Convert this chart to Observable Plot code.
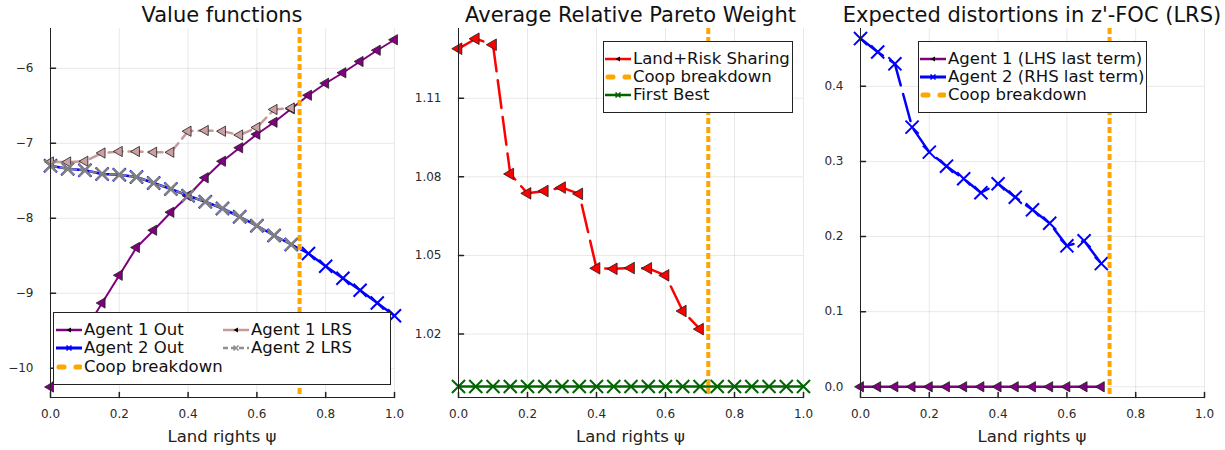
<!DOCTYPE html>
<html><head><meta charset="utf-8">
<script src="https://cdn.jsdelivr.net/npm/d3@7"></script>
<script src="https://cdn.jsdelivr.net/npm/@observablehq/plot@0.6"></script>
<style>
html,body{margin:0;padding:0;background:#fff;}
#root{position:relative;width:1225px;height:450px;overflow:hidden;font-family:"DejaVu Sans",sans-serif;}
.title{position:absolute;top:5px;font-size:21px;line-height:21px;text-align:center;white-space:nowrap;color:#111;}
.xlabel{position:absolute;top:429px;font-size:16.5px;line-height:16.5px;text-align:center;white-space:nowrap;color:#222;}
.legend{position:absolute;background:#fff;border:1px solid #222;box-sizing:border-box;}
.item{position:absolute;display:flex;align-items:center;height:18px;white-space:nowrap;font-size:16.5px;line-height:18px;color:#111;}
.item svg{margin-right:2px;flex:none;}
</style></head><body><div id="root"></div>
<script>
// ---------- data ----------
const psi = [0, 0.05, 0.1, 0.15, 0.2, 0.25, 0.3, 0.35, 0.4, 0.45, 0.5, 0.55, 0.6, 0.65, 0.7, 0.75, 0.8, 0.85, 0.9, 0.95, 1.0];
const psiLRS = [0, 0.05, 0.1, 0.15, 0.2, 0.25, 0.3, 0.35, 0.4, 0.45, 0.5, 0.55, 0.6, 0.65, 0.7];
const coopBreakdown = [0.724];
const xTicks = [0, 0.2, 0.4, 0.6, 0.8, 1.0];

// Panel 1: value functions
const agent1Out = [-10.25, -9.87, -9.50, -9.13, -8.76, -8.39, -8.16, -7.92, -7.70, -7.46, -7.24, -7.06, -6.88, -6.72, -6.54, -6.36, -6.20, -6.06, -5.91, -5.76, -5.62];
const agent2Out = [-7.30, -7.34, -7.36, -7.41, -7.42, -7.45, -7.53, -7.61, -7.70, -7.78, -7.87, -7.98, -8.10, -8.23, -8.35, -8.47, -8.64, -8.80, -8.96, -9.13, -9.30];
const agent1LRS = [-7.25, -7.25, -7.24, -7.13, -7.11, -7.11, -7.12, -7.12, -6.84, -6.83, -6.84, -6.89, -6.79, -6.55, -6.53];
const agent2LRS = [-7.30, -7.34, -7.36, -7.41, -7.42, -7.45, -7.53, -7.61, -7.70, -7.78, -7.87, -7.98, -8.10, -8.23, -8.35];
const yTicks1 = [-10, -9, -8, -7, -6];

// Panel 2: average relative Pareto weight
const landRiskSharing = [1.1289, 1.1327, 1.1304, 1.0811, 1.0737, 1.0746, 1.0759, 1.0735, 1.0451, 1.0449, 1.0452, 1.0451, 1.0424, 1.0288, 1.0219];
const firstBest = [1.0, 1.0, 1.0, 1.0, 1.0, 1.0, 1.0, 1.0, 1.0, 1.0, 1.0, 1.0, 1.0, 1.0, 1.0, 1.0, 1.0, 1.0, 1.0, 1.0, 1.0];
const yTicks2 = [1.02, 1.05, 1.08, 1.11];

// Panel 3: expected distortions
const agent1LHS = [0, 0, 0, 0, 0, 0, 0, 0, 0, 0, 0, 0, 0, 0, 0];
const agent2RHS = [0.4636, 0.4457, 0.4300, 0.3457, 0.3124, 0.2937, 0.2769, 0.2583, 0.2703, 0.2524, 0.2356, 0.2177, 0.1876, 0.1943, 0.1640];
const yTicks3 = [0, 0.1, 0.2, 0.3, 0.4];

// ---------- helpers ----------
const rows = (xs, ys) => xs.map((x, i) => ({x, y: ys[i]}));
const tickShape = {draw(ctx, l) { ctx.moveTo(0, 0); ctx.lineTo(0, -l); }};
const root = document.getElementById("root");

function panel({left, width, mL, mR, yDomain, yTicks, yFmt, marks, title, legend}) {
  const svg = Plot.plot({
    width, height: 450, marginTop: 28, marginBottom: 53, marginLeft: mL, marginRight: mR,
    style: {fontFamily: "DejaVu Sans", fontSize: "12px", color: "#2a2a2a", background: "transparent"},
    x: {domain: [0, 1]},
    y: {domain: yDomain},
    marks: [
      Plot.gridX(xTicks, {stroke: "#000", strokeOpacity: 0.09}),
      Plot.gridY(yTicks, {stroke: "#000", strokeOpacity: 0.09}),
      Plot.axisX(xTicks, {tickSize: 0, tickPadding: 12, tickFormat: d3.format(".1f"), label: null}),
      Plot.axisY(yTicks, {tickSize: 0, tickPadding: 17, tickFormat: yFmt, label: null}),
      Plot.vector(xTicks, {x: d => d, y: yDomain[0], length: 5, rotate: 0, anchor: "start", shape: tickShape, stroke: "#222"}),
      Plot.vector(yTicks, {y: d => d, x: 0, length: 5, rotate: 90, anchor: "start", shape: tickShape, stroke: "#222"}),
      ...marks,
      Plot.ruleX([0], {stroke: "#222", strokeWidth: 1}),
      Plot.ruleY([yDomain[0]], {stroke: "#222", strokeWidth: 1})
    ]
  });
  svg.style.position = "absolute";
  svg.style.left = left + "px";
  svg.style.top = "0px";
  root.appendChild(svg);

  const pL = left + mL, pR = left + width - mR, c = (pL + pR) / 2;
  const t = document.createElement("div");
  t.className = "title"; t.textContent = title;
  t.style.left = (c - 300) + "px"; t.style.width = "600px";
  root.appendChild(t);
  const xl = document.createElement("div");
  xl.className = "xlabel"; xl.textContent = "Land rights ψ";
  xl.style.left = (c - 150) + "px"; xl.style.width = "300px";
  root.appendChild(xl);

  const lg = document.createElement("div");
  lg.className = "legend";
  Object.assign(lg.style, {left: legend.left + "px", top: legend.top + "px", width: legend.width + "px", height: legend.height + "px"});
  legend.items.forEach(it => {
    const d = document.createElement("div");
    d.className = "item";
    d.style.left = it.x + "px"; d.style.top = it.y + "px";
    d.innerHTML = sample(it) + "<span>" + it.label + "</span>";
    lg.appendChild(d);
  });
  root.appendChild(lg);
}

function sample({kind, color, width = 2.5, dash = null, marker = null, mcolor = "#000"}) {
  let s = `<svg width="26" height="12" viewBox="0 0 26 12">`;
  if (kind === "coop") {
    s += `<line x1="3" y1="6" x2="24" y2="6" stroke="${color}" stroke-width="5" stroke-linecap="round" stroke-dasharray="5,12"/>`;
  } else {
    s += `<line x1="0" y1="6" x2="26" y2="6" stroke="${color}" stroke-width="${width}" ${dash ? `stroke-dasharray="${dash}"` : ""}/>`;
  }
  if (marker === "tri") s += `<polygon points="10.5,6 15,3.5 15,8.5" fill="${mcolor}"/>`;
  if (marker === "x") s += `<path d="M10.5,3.5L15.5,8.5M10.5,8.5L15.5,3.5" stroke="${mcolor}" stroke-width="1.6"/>`;
  return s + `</svg>`;
}

const triOpts = (fill, r) => ({x: "x", y: "y", symbol: "triangle", rotate: -90, r, fill, stroke: "#1a1a1a", strokeWidth: 0.8});
const xOpts = (stroke, r, sw) => ({x: "x", y: "y", symbol: "times", r, stroke, strokeWidth: sw});
const coopRule = Plot.ruleX(coopBreakdown, {stroke: "#ffa500", strokeWidth: 4, strokeDasharray: "6,3"});

// ---------- Panel 1 ----------
const d1a = rows(psi, agent1Out), d1b = rows(psi, agent2Out), d1c = rows(psiLRS, agent1LRS), d1d = rows(psiLRS, agent2LRS);
panel({
  left: 0, width: 405, mL: 50, mR: 11,
  yDomain: [-10.39, -5.47], yTicks: yTicks1, yFmt: d3.format("d"),
  title: "Value functions",
  marks: [
    Plot.line(d1a, {x: "x", y: "y", stroke: "#800080", strokeWidth: 2}),
    Plot.dot(d1a, triOpts("#800080", 3.8)),
    Plot.line(d1b, {x: "x", y: "y", stroke: "#0000ff", strokeWidth: 2.5}),
    Plot.dot(d1b, xOpts("#0000ff", 6, 2)),
    coopRule,
    Plot.line(d1c, {x: "x", y: "y", stroke: "#c49a9a", strokeWidth: 2.5, strokeDasharray: "14,6"}),
    Plot.dot(d1c, triOpts("#cf9ea2", 3.8)),
    Plot.line(d1d, {x: "x", y: "y", stroke: "#808080", strokeWidth: 2, strokeDasharray: "6,4"}),
    Plot.dot(d1d, xOpts("#808080", 5.6, 2.4))
  ],
  legend: {left: 53, top: 312, width: 338, height: 73, items: [
    {x: 2, y: 8, kind: "line", color: "#800080", marker: "tri", label: "Agent 1 Out"},
    {x: 2, y: 26, kind: "line", color: "#0000ff", width: 3, marker: "x", mcolor: "#0000ff", label: "Agent 2 Out"},
    {x: 2, y: 45, kind: "coop", color: "#ffa500", label: "Coop breakdown"},
    {x: 169, y: 8, kind: "line", color: "#c49a9a", marker: "tri", label: "Agent 1 LRS"},
    {x: 169, y: 26, kind: "line", color: "#909090", dash: "5,3", marker: "x", mcolor: "#909090", label: "Agent 2 LRS"}
  ]}
});

// ---------- Panel 2 ----------
const d2a = rows(psiLRS, landRiskSharing), d2b = rows(psi, firstBest);
panel({
  left: 405, width: 410, mL: 53, mR: 12,
  yDomain: [0.9958, 1.1366], yTicks: yTicks2, yFmt: d3.format(".2f"),
  title: "Average Relative Pareto Weight",
  marks: [
    Plot.line(d2a, {x: "x", y: "y", stroke: "#ff0000", strokeWidth: 2.5, strokeDasharray: "28,9"}),
    Plot.dot(d2a, triOpts("#ff0000", 4.3)),
    coopRule,
    Plot.line(d2b, {x: "x", y: "y", stroke: "#006400", strokeWidth: 2.5}),
    Plot.dot(d2b, xOpts("#006400", 6, 2))
  ],
  legend: {left: 603, top: 41, width: 190, height: 72, items: [
    {x: 1, y: 8, kind: "line", color: "#ff0000", marker: "tri", label: "Land+Risk Sharing"},
    {x: 1, y: 26, kind: "coop", color: "#ffa500", label: "Coop breakdown"},
    {x: 1, y: 44, kind: "line", color: "#006400", marker: "x", mcolor: "#006400", label: "First Best"}
  ]}
});

// ---------- Panel 3 ----------
const d3a = rows(psiLRS, agent1LHS), d3b = rows(psiLRS, agent2RHS);
panel({
  left: 815, width: 410, mL: 45, mR: 21,
  yDomain: [-0.0143, 0.477], yTicks: yTicks3, yFmt: d3.format(".1f"),
  title: "Expected distortions in z'-FOC (LRS)",
  marks: [
    Plot.line(d3a, {x: "x", y: "y", stroke: "#800080", strokeWidth: 2.5}),
    Plot.dot(d3a, triOpts("#800080", 3.8)),
    Plot.line(d3b, {x: "x", y: "y", stroke: "#0000ff", strokeWidth: 2.5, strokeDasharray: "28,9"}),
    Plot.dot(d3b, xOpts("#0000ff", 6, 2)),
    coopRule
  ],
  legend: {left: 918, top: 41, width: 229, height: 72, items: [
    {x: 1, y: 8, kind: "line", color: "#800080", marker: "tri", label: "Agent 1 (LHS last term)"},
    {x: 1, y: 26, kind: "line", color: "#0000ff", width: 3, marker: "x", mcolor: "#0000ff", label: "Agent 2 (RHS last term)"},
    {x: 1, y: 44, kind: "coop", color: "#ffa500", label: "Coop breakdown"}
  ]}
});
</script></body></html>
